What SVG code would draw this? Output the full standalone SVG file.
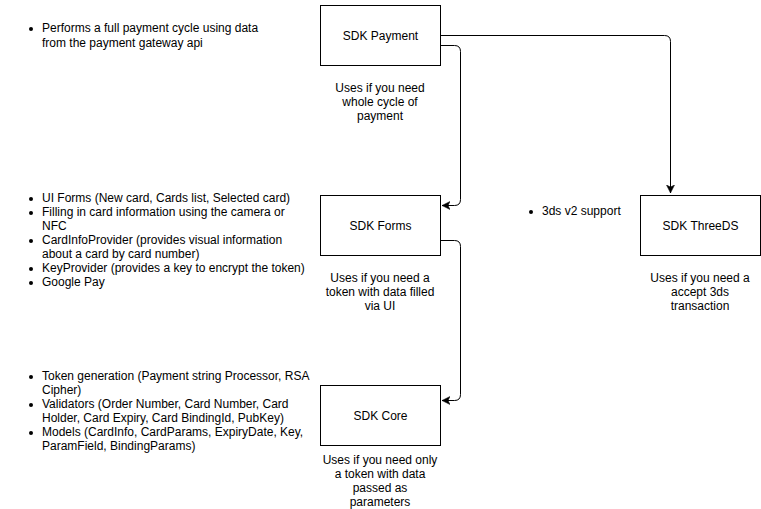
<svg xmlns="http://www.w3.org/2000/svg" width="761" height="509" viewBox="0 0 761 509">
<style>
.box{fill:#fff;stroke:#000;stroke-width:1}
.t{font-family:"Liberation Sans",Arial,Helvetica,sans-serif;font-size:12px;fill:#000}
.c{text-anchor:middle}
.edge{fill:none;stroke:#000;stroke-width:1}
.b{fill:#000}
</style>
<defs>
<marker id="arr" markerWidth="10" markerHeight="10" refX="8" refY="5" orient="auto" markerUnits="userSpaceOnUse">
<path d="M0,1 L8,5 L0,9 L2,5 Z" fill="#000" stroke="#000" stroke-width="0.5"/>
</marker>
</defs>
<rect width="761" height="509" fill="#fff"/>
<g id="connectors">
<path class="edge" d="M440.5,35.5 H664.5 Q670.5,35.5 670.5,41.5 V193" marker-end="url(#arr)"/>
<path class="edge" d="M440.5,45.5 H454.5 Q460.5,45.5 460.5,51.5 V199.5 Q460.5,205.5 454.5,205.5 H442" marker-end="url(#arr)"/>
<path class="edge" d="M440.5,240.5 H454.5 Q460.5,240.5 460.5,246.5 V394.5 Q460.5,400.5 454.5,400.5 H442" marker-end="url(#arr)"/>
</g>
<g id="sdk-payment">
<rect class="box" x="320.5" y="5.5" width="120" height="60"/>
<text class="t c" x="380.5" y="39.5">SDK Payment</text>
</g>
<g id="sdk-payment-note">
<text class="t c" x="380" y="92">Uses if you need</text>
<text class="t c" x="380" y="106">whole cycle of</text>
<text class="t c" x="380" y="120">payment</text>
</g>
<g id="sdk-forms">
<rect class="box" x="320.5" y="195.5" width="120" height="60"/>
<text class="t c" x="380.5" y="229.5">SDK Forms</text>
</g>
<g id="sdk-forms-note">
<text class="t c" x="380" y="282">Uses if you need a</text>
<text class="t c" x="380" y="296">token with data filled</text>
<text class="t c" x="380" y="310">via UI</text>
</g>
<g id="sdk-core">
<rect class="box" x="320.5" y="385.5" width="120" height="60"/>
<text class="t c" x="380.5" y="419.5">SDK Core</text>
</g>
<g id="sdk-core-note">
<text class="t c" x="380" y="464">Uses if you need only</text>
<text class="t c" x="380" y="478">a token with data</text>
<text class="t c" x="380" y="492">passed as</text>
<text class="t c" x="380" y="506">parameters</text>
</g>
<g id="sdk-threeds">
<rect class="box" x="640.5" y="195.5" width="120" height="60"/>
<text class="t c" x="700.5" y="229.5">SDK ThreeDS</text>
</g>
<g id="sdk-threeds-note">
<text class="t c" x="700" y="282">Uses if you need a</text>
<text class="t c" x="700" y="296">accept 3ds</text>
<text class="t c" x="700" y="310">transaction</text>
</g>
<g id="payment-features">
<circle class="b" cx="31" cy="29" r="2"/>
<text class="t" x="42" y="32">Performs a full payment cycle using data</text>
<text class="t" x="42" y="47">from the payment gateway api</text>
</g>
<g id="forms-features">
<circle class="b" cx="31" cy="199" r="2"/>
<text class="t" x="42" y="202">UI Forms (New card, Cards list, Selected card)</text>
<circle class="b" cx="31" cy="213" r="2"/>
<text class="t" x="42" y="216">Filling in card information using the camera or</text>
<text class="t" x="42" y="230">NFC</text>
<circle class="b" cx="31" cy="241" r="2"/>
<text class="t" x="42" y="244">CardInfoProvider (provides visual information</text>
<text class="t" x="42" y="258">about a card by card number)</text>
<circle class="b" cx="31" cy="269" r="2"/>
<text class="t" x="42" y="272">KeyProvider (provides a key to encrypt the token)</text>
<circle class="b" cx="31" cy="283" r="2"/>
<text class="t" x="42" y="286">Google Pay</text>
</g>
<g id="core-features">
<circle class="b" cx="31" cy="377" r="2"/>
<text class="t" x="42" y="380">Token generation (Payment string Processor, RSA</text>
<text class="t" x="42" y="394">Cipher)</text>
<circle class="b" cx="31" cy="405" r="2"/>
<text class="t" x="42" y="408">Validators (Order Number, Card Number, Card</text>
<text class="t" x="42" y="422">Holder, Card Expiry, Card BindingId, PubKey)</text>
<circle class="b" cx="31" cy="433" r="2"/>
<text class="t" x="42" y="436">Models (CardInfo, CardParams, ExpiryDate, Key,</text>
<text class="t" x="42" y="450">ParamField, BindingParams)</text>
</g>
<g id="threeds-features">
<circle class="b" cx="531" cy="212" r="2"/>
<text class="t" x="542" y="215">3ds v2 support</text>
</g>
</svg>
